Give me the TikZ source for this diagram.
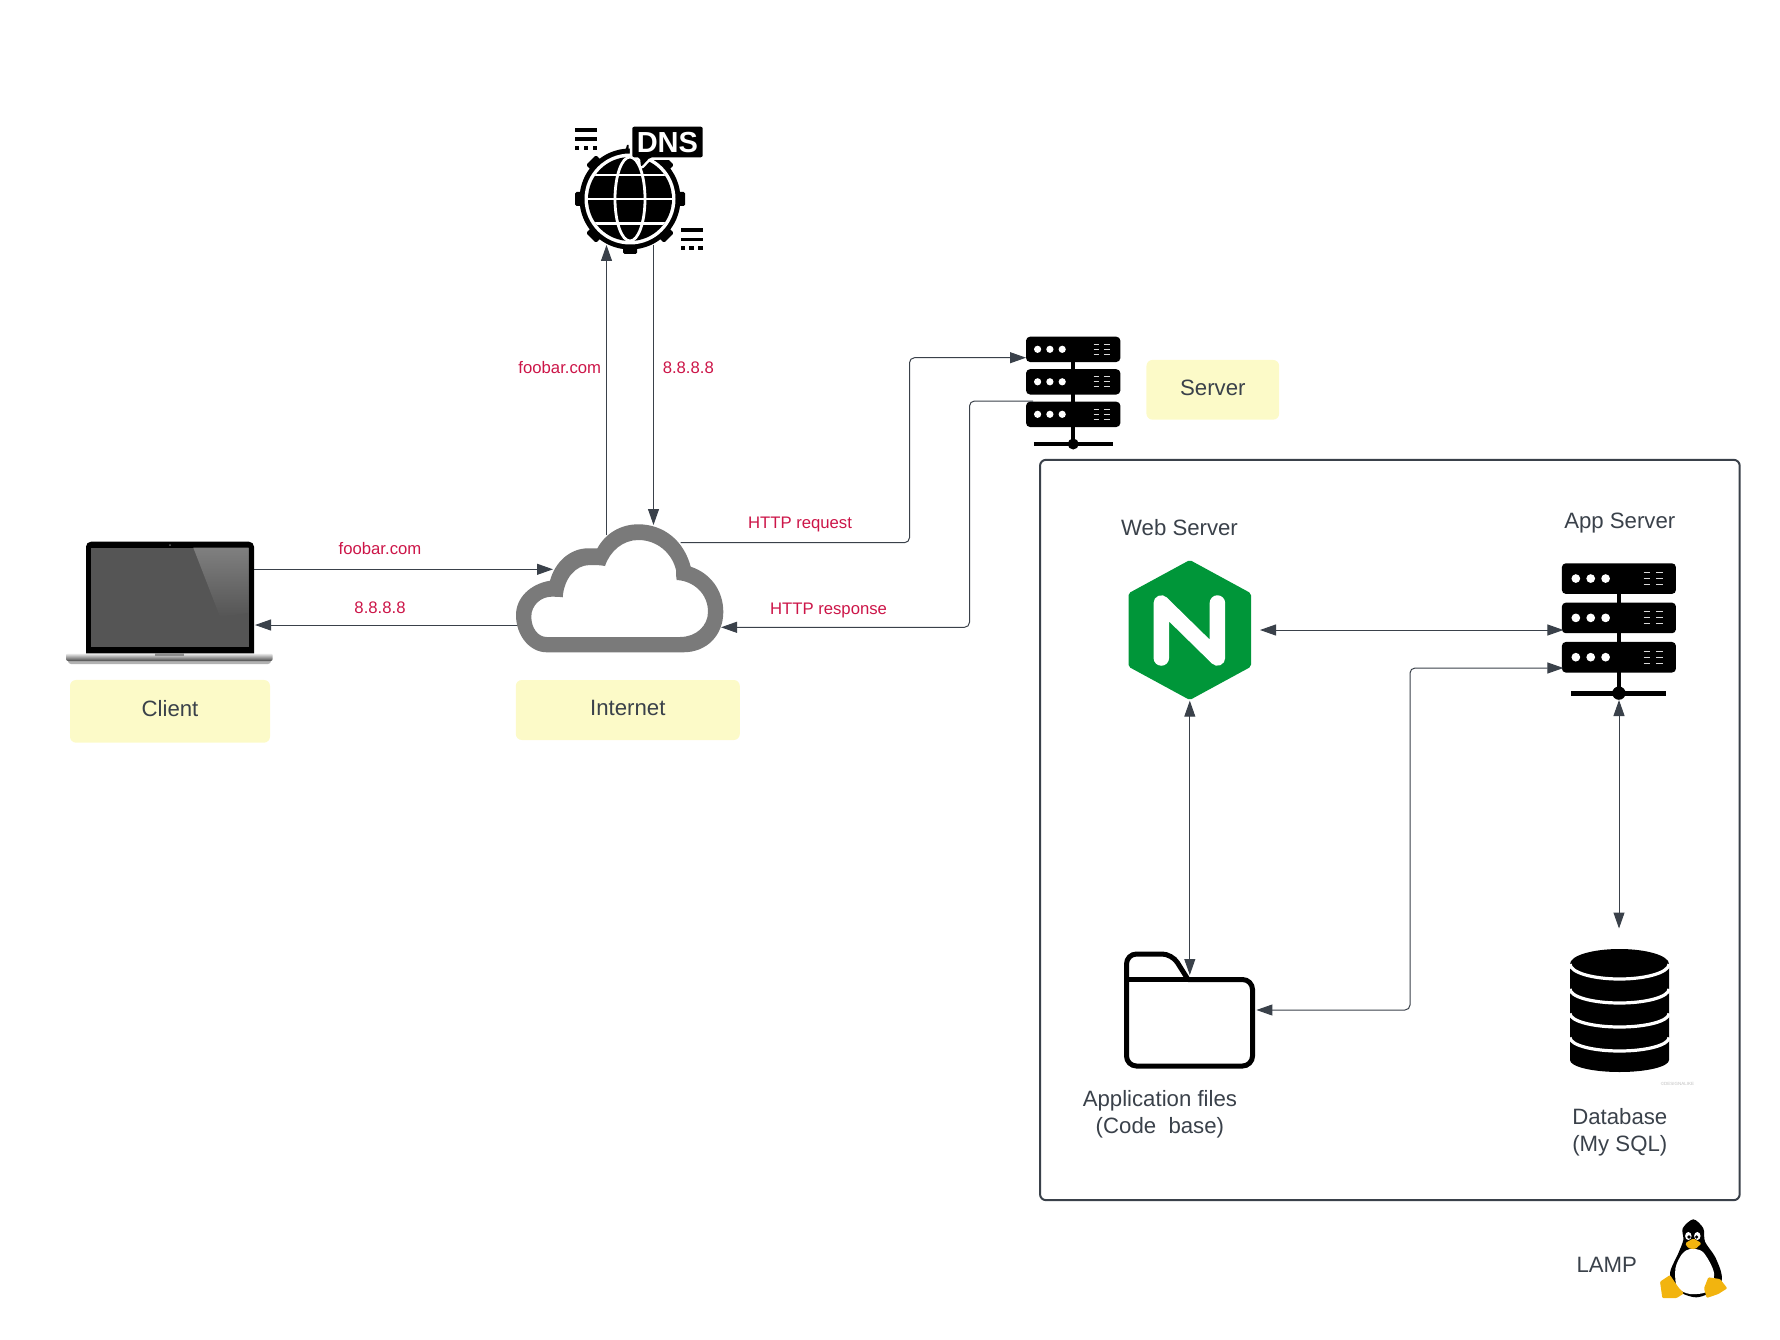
\documentclass[tikz,border=0pt]{standalone}
\usepackage{fontspec}
\setmainfont{Liberation Sans}
\usetikzlibrary{arrows.meta}
\definecolor{linkgray}{HTML}{3A414A}
\definecolor{labelred}{HTML}{CC1548}
\definecolor{noteyellow}{HTML}{FCFAC8}
\definecolor{cloudgray}{HTML}{7A7A7A}
\definecolor{screengray}{HTML}{555555}
\definecolor{nginxgreen}{HTML}{009639}
\definecolor{tuxyellow}{HTML}{F2B40F}
\tikzset{
  flowtip/.tip={Triangle[length=16pt,width=11pt]},
  link/.style={draw=linkgray,line width=1pt,-flowtip},
  twolink/.style={draw=linkgray,line width=1pt,flowtip-flowtip},
  bendlink/.style={link,rounded corners=5pt},
  twobend/.style={twolink,rounded corners=5pt},
  notebox/.style={fill=noteyellow,rounded corners=6pt,text=linkgray,font=\fontsize{22.2}{26}\selectfont,text depth=6pt,text height=16pt,inner sep=0pt},
  caption/.style={text=linkgray,font=\fontsize{22.2}{26.7}\selectfont,align=center,inner sep=0pt},
  redlabel/.style={text=labelred,font=\fontsize{16.7}{20}\selectfont,inner sep=0pt}
}
% rack icon: x, y of top centre, scale
\newcommand{\rackicon}[3]{
  \begin{scope}[shift={(#1,#2)},scale=#3]
    \draw[line width=4*#3] (0,10) -- (0,107.3);
    \draw[line width=4*#3] (-39.3,107.3) -- (39.3,107.3);
    \fill (0,107.3) circle (5.5);
    \foreach \u in {0,1,2}{
      \fill[rounded corners=4pt] (-47.15,32.5*\u) rectangle (47.15,32.5*\u+25.3);
      \foreach \d in {-35.6,-23.3,-11}
        \fill[white] (\d,32.5*\u+12.6) circle (3.6);
      \foreach \s in {-5,0,5}{
        \draw[white!85!black,line width=0.9] (20.4,32.5*\u+12.6+\s) -- (26,32.5*\u+12.6+\s);
        \draw[white!85!black,line width=0.9] (30.7,32.5*\u+12.6+\s) -- (36.4,32.5*\u+12.6+\s);
      }
    }
  \end{scope}
}
% stripes beside the globe: x, y of top left
\newcommand{\dnsbars}[2]{
  \begin{scope}[shift={(#1,#2)}]
    \fill (0,0) rectangle (22,3.8);
    \fill (0,9.2) rectangle (22,13);
    \foreach \k in {0,8.5,17.5}
      \fill (\k,17.8) rectangle (\k+4.4,21.8);
  \end{scope}
}
\begin{document}
\begin{tikzpicture}[x=1pt,y=-1pt]
\useasboundingbox (0,0) rectangle (1780,1340);

%DNS
  \foreach \a in {45,90,...,315}
    \fill[rotate around={\a:(630,199)},rounded corners=1.5pt] (623,144) rectangle (637,160);
  \fill (630,199) circle (50.5);
  \fill[white] (630,199) circle (45.5);
  \fill (630,199) circle (42);
  \begin{scope}
    \clip (630,199) circle (42);
    \draw[white,line width=2.8] (630,199) ellipse (15 and 42);
    \foreach \yy in {175,199,223.3}
      \draw[white,line width=2.8] (580,\yy) -- (680,\yy);
  \end{scope}
  \fill[draw=white,line width=5,rounded corners=2pt] (632.3,126.7) -- (702.7,126.7) -- (702.7,157.3)
    -- (650,157.3) -- (641,167) -- (640,157.3) -- (632.3,157.3) -- cycle;
  \fill[rounded corners=2pt] (632.3,126.7) -- (702.7,126.7) -- (702.7,157.3)
    -- (650,157.3) -- (641,167) -- (640,157.3) -- (632.3,157.3) -- cycle;
  \fill (625.5,150) -- (627,145) -- (628.5,145) -- (628.5,150) -- cycle;
  \node[text=white,font=\fontsize{29}{29}\selectfont\bfseries,inner sep=0pt] (dnstext) at (667.4,142.6) {DNS};
  \dnsbars{575}{128}
  \dnsbars{680.7}{228.5}

%SERVER
  \rackicon{1073.2}{336.7}{1}
  \node[notebox,text depth=4pt,minimum width=132.7pt,minimum height=59.7pt] (servernote) at (1212.8,389.8) {Server};

%LINKS OUTSIDE
  \coordinate (clientout) at (254,569.3);
  \coordinate (cloudin) at (553,569.3);
  \coordinate (cloudback) at (530,625);
  \coordinate (clientin) at (255,625);
  \coordinate (cloudup) at (606.5,535);
  \coordinate (dnsin) at (606.5,245);
  \coordinate (dnsout) at (653.5,245);
  \coordinate (cloudtop) at (653.5,525);
  \coordinate (cloudreq) at (680.5,542.7);
  \coordinate (reqbend) at (909.5,450);
  \coordinate (serverin) at (1026,357.7);
  \coordinate (serverout) at (1033,401);
  \coordinate (respbend) at (969.5,500);
  \coordinate (cloudresp) at (721,627.3);
  \draw[link] (clientout) -- (cloudin);
  \draw[link] (cloudback) -- (clientin);
  \draw[link] (cloudup) -- (dnsin);
  \draw[link] (dnsout) -- (cloudtop);
  \draw[bendlink] (cloudreq) -| (reqbend) |- (serverin);
  \draw[bendlink] (serverout) -| (respbend) |- (cloudresp);
  \node[redlabel] (toplabel) at (380,549) {foobar.com};
  \node[redlabel] (backlabel) at (380,607.7) {8.8.8.8};
  \node[redlabel] (asklabel) at (559.8,368) {foobar.com};
  \node[redlabel] (answerlabel) at (688.3,368) {8.8.8.8};
  \node[redlabel] (reqlabel) at (800,524.5) {HTTP request};
  \node[redlabel] (resplabel) at (828.5,610.5) {HTTP response};

%CLOUD
  \fill[cloudgray,even odd rule]
    (546.7,652.3) -- (683.3,652.3) .. controls (707,652.3) and (723.3,635) .. (723.3,612)
    .. controls (723.3,590) and (710,573) .. (690.7,566.7)
    .. controls (684,541) and (664,524.3) .. (638.3,524.3)
    .. controls (620,524.3) and (605,534) .. (597.3,548.5)
    .. controls (593,548.3) and (590,548.3) .. (588.3,548.3)
    .. controls (570,548.3) and (555,562) .. (550,580.7)
    .. controls (530,584) and (516,598) .. (516,615)
    .. controls (516,636) and (530,652.3) .. (546.7,652.3) -- cycle
    (546.7,637) -- (680,637) .. controls (696,637) and (708,626) .. (708,611.7)
    .. controls (708,594) and (694,581) .. (676.7,580)
    .. controls (676,577) and (676,572) .. (676,570)
    .. controls (672,553) and (657,540) .. (638.3,540)
    .. controls (623,540) and (610,551) .. (605,566)
    .. controls (600,565) and (595,565) .. (590,565)
    .. controls (575,565) and (564,579) .. (562.7,597.3)
    .. controls (558,596.7) and (555,596.7) .. (551.7,596.7)
    .. controls (541,596.7) and (531.3,605) .. (531.3,616.7)
    .. controls (531.3,628) and (538,637) .. (546.7,637) -- cycle;
  \node[notebox,minimum width=224pt,minimum height=60pt] (internetnote) at (627.8,710) {Internet};

%LAPTOP
  \fill[black!30,rounded corners=3pt] (68,658) rectangle (271,664);
  \fill[rounded corners=5pt] (86,541.7) -- (254,541.7) -- (254,660) -- (86,660) -- cycle;
  \fill[screengray] (91,547.7) rectangle (248.7,646.7);
  \shade[top color=black!50,bottom color=screengray] (193.3,547.7) -- (248.7,547.7) -- (248.7,613) -- (220,616.7) -- cycle;
  \fill[black!60] (170,545) circle (1);
  \shade[top color=black!5,middle color=black!22,bottom color=black!72,rounded corners=2pt] (66,653.3) rectangle (272.7,661);
  \fill[black!45] (155.3,653.3) rectangle (184,656);
  \node[notebox,minimum width=200pt,minimum height=62.7pt] (clientnote) at (170,711.3) {Client};

%LAMP BOX
  \node[draw=linkgray,line width=2pt,rounded corners=6pt,minimum width=699.7pt,minimum height=740.3pt,inner sep=0pt] (lampbox) at (1389.85,830) {};
  \node[caption] (webcap) at (1179.5,527.8) {Web Server};
  \node[caption] (appcap) at (1619.8,523.5) {App Server};
  \node[caption] (filecap) at (1159.9,1114) {Application files\\(Code\ \ base)};
  \node[caption] (dbcap) at (1619.8,1132.5) {Database\\(My SQL)};
  \node[caption] (lampcap) at (1606.8,1265) {LAMP};

%NGINX
  \fill[nginxgreen,rounded corners=2pt] (1189.8,560) -- (1251,593.3) -- (1251,666.7) -- (1189.8,700)
    -- (1128.5,666.7) -- (1128.5,593.3) -- cycle;
  \draw[white,line width=15.5,line cap=round,line join=round] (1161.3,658) -- (1161.3,603) -- (1217.4,658) -- (1217.4,603);

%APP SERVER
  \rackicon{1618.9}{563.3}{1.21}

%FOLDER
  \draw[line width=5,rounded corners=10pt] (1188,979.5) -- (1252.5,979.5) -- (1252.5,1066) -- (1126.5,1066) -- (1126.5,954) -- (1172,954) -- (1188,979.5);
  \draw[line width=5] (1126.5,979.5) -- (1188,979.5);

%DATABASE
  \fill (1570,964) arc[start angle=180,end angle=360,x radius=49.5,y radius=15]
    -- (1669,1060) arc[start angle=0,end angle=180,x radius=49.5,y radius=12] -- cycle;
  \foreach \yy/\ry in {964/15,989/14,1013.5/13.5,1037.5/13.5}
    \draw[white,line width=3.2] (1570,\yy) arc[start angle=180,end angle=0,x radius=49.5,y radius=\ry];
  \node[text=black!25,font=\fontsize{4.5}{5}\selectfont,inner sep=0pt] (dbmark) at (1677.5,1084) {©DESIGNALIKE};

%LINKS INSIDE
  \coordinate (nginxright) at (1260,630);
  \coordinate (appleft) at (1563.4,630);
  \coordinate (nginxdown) at (1189.8,700.7);
  \coordinate (folderup) at (1189.8,975);
  \coordinate (appdown) at (1619,700);
  \coordinate (dbup) at (1619,928.5);
  \coordinate (folderright) at (1256.4,1010);
  \coordinate (filebend) at (1410,800);
  \coordinate (applow) at (1563.4,668);
  \draw[twolink] (nginxright) -- (appleft);
  \draw[twolink] (nginxdown) -- (folderup);
  \draw[twolink] (appdown) -- (dbup);
  \draw[twobend] (folderright) -| (filebend) |- (applow);

%TUX
  \fill plot[smooth cycle] coordinates {(1693.3,1219.3) (1703.3,1228.3) (1705,1241.7) (1715,1256.7) (1721.7,1275) (1718.3,1288.3) (1696.7,1297.3) (1676.7,1290) (1670,1273.3) (1678.3,1253.3) (1683.3,1240) (1682.7,1228.3)};
  \fill[white] plot[smooth cycle] coordinates {(1690,1249) (1703,1252) (1714,1273) (1708,1291) (1690,1294) (1677,1287) (1675.5,1268) (1682,1254)};
  \fill[white] (1688.3,1236) ellipse (3.2 and 4);
  \fill[white] (1697.3,1236) ellipse (3.2 and 4);
  \fill (1689,1237) circle (1.8);
  \fill (1696.6,1237) circle (1.8);
  \fill[tuxyellow,rounded corners=1.5pt] (1685,1243.3) -- (1693.3,1238.3) -- (1701.7,1243.3) -- (1695,1249.3) -- (1688.3,1248.3) -- cycle;
  \fill[tuxyellow,rounded corners=1pt] (1670,1275) -- (1678.3,1287.3) -- (1684,1293.3) -- (1676.7,1298) -- (1662.3,1298) -- (1660,1281.7) -- cycle;
  \fill[tuxyellow,rounded corners=1pt] (1708.3,1277.3) -- (1720,1279) -- (1727.3,1288.3) -- (1718.3,1294) -- (1706.7,1298) -- (1704,1288.3) -- cycle;
\end{tikzpicture}
\end{document}
